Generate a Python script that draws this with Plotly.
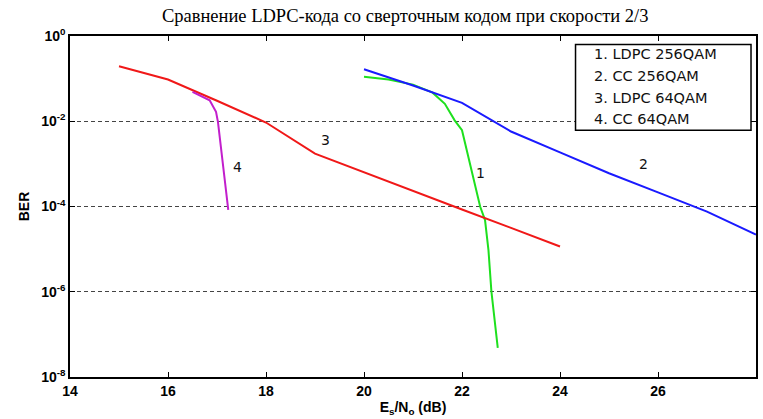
import plotly.graph_objects as go

# Es/No (dB) and BER for each coding scheme
snr_ldpc256 = [20.0, 20.5, 21.0, 21.4, 21.65, 21.85, 22.0, 22.37, 22.47, 22.54, 22.6, 22.73]
ber_ldpc256 = [0.11, 0.0955, 0.0724, 0.0468, 0.0257, 0.0105, 0.00617, 1.0e-4, 4.8e-5, 9.5e-6, 1.02e-6, 4.8e-8]

snr_cc256 = [20, 21, 22, 23, 24, 25, 26, 27, 28]
ber_cc256 = [0.166, 0.0692, 0.0269, 0.00575, 0.00186, 6.03e-4, 2.14e-4, 7.59e-5, 2.19e-5]

snr_ldpc64 = [15, 16, 17, 18, 19, 20, 21, 22, 23, 24]
ber_ldpc64 = [0.195, 0.0955, 0.0302, 0.00933, 0.00174, 6.3e-4, 2.34e-4, 8.5e-5, 3.16e-5, 1.15e-5]

snr_cc64 = [16.5, 16.7, 16.85, 16.98, 17.02, 17.23]
ber_cc64 = [0.049, 0.0372, 0.0309, 0.0166, 0.00955, 8.3e-5]

curve_ids = ["1", "2", "3", "4"]
legend_lines = ["1. LDPC 256QAM", "2. CC 256QAM", "3. LDPC 64QAM", "4. CC 64QAM"]

x_ticks = [14, 16, 18, 20, 22, 24, 26, 28]
y_exponents = [0, -2, -4, -6, -8]

series = [
    (snr_ldpc256, ber_ldpc256, "#1ee01e"),
    (snr_cc256, ber_cc256, "#1a1aff"),
    (snr_ldpc64, ber_ldpc64, "#f01818"),
    (snr_cc64, ber_cc64, "#c21fcc"),
]

fig = go.Figure()
for (xs, ys, col), name in zip(series, legend_lines):
    fig.add_trace(go.Scatter(x=xs, y=ys, mode="lines", name=name,
                             line=dict(color=col, width=2), showlegend=False))

# curve number labels (x in dB, y in log10 units)
label_pos = [(22.37, -3.22), (25.71, -3.01), (19.22, -2.43), (17.42, -3.08)]
for cid, (lx, ly) in zip(curve_ids, label_pos):
    fig.add_annotation(x=lx, y=ly, xref="x", yref="y", text=cid, showarrow=False,
                       font=dict(family="DejaVu Sans", size=14, color="#111"))

# legend box
fig.add_shape(type="rect", xref="paper", yref="paper",
              x0=(577 - 70) / 688, x1=(753 - 70) / 688,
              y0=(377.5 - 130) / 342, y1=(377.5 - 44) / 342,
              line=dict(color="black", width=1.5), fillcolor="white", layer="above")
for i, txt in enumerate(legend_lines):
    ypx = 54 + i * 21.7
    fig.add_annotation(x=(594 - 70) / 688, y=(377.5 - ypx) / 342, xref="paper", yref="paper",
                       text=txt, showarrow=False, xanchor="left", yanchor="middle",
                       font=dict(family="DejaVu Sans", size=14.5, color="#111"))

tick_font = dict(family="Liberation Sans Narrow, Liberation Sans, Arial", size=14, color="black")

fig.update_layout(
    width=763, height=419,
    margin=dict(l=70, r=5, t=36, b=41.5),
    paper_bgcolor="white", plot_bgcolor="white",
    title=dict(text="Сравнение LDPC-кода со сверточным кодом при скорости 2/3",
               x=0.531, xanchor="center", y=0.962, yanchor="middle",
               font=dict(family="Liberation Serif", size=18.5, color="black")),
    xaxis=dict(range=[14, 28], tickvals=x_ticks, ticktext=[f"<b>{t}</b>" for t in x_ticks],
               showgrid=False, zeroline=False, showline=True, linecolor="black", linewidth=1.5,
               mirror="allticks", ticks="inside", ticklen=5, tickwidth=1.3, tickcolor="black",
               tickfont=tick_font,
               title=dict(text="<b>E<sub>s</sub>/N<sub>o</sub> (dB)</b>", font=tick_font, standoff=5)),
    yaxis=dict(type="log", range=[-8, 0], tickvals=[10.0 ** e for e in y_exponents],
               ticktext=[f"<b>10<sup>{e}</sup></b>" for e in y_exponents],
               showgrid=True, gridcolor="#444", gridwidth=1, griddash="4px,3px",
               zeroline=False, showline=True, linecolor="black", linewidth=1.5,
               mirror="allticks", ticks="inside", ticklen=5, tickwidth=1.3, tickcolor="black",
               tickfont=tick_font,
               title=dict(text="<b>BER</b>", font=tick_font, standoff=8)),
)

fig.write_html("out.html")
